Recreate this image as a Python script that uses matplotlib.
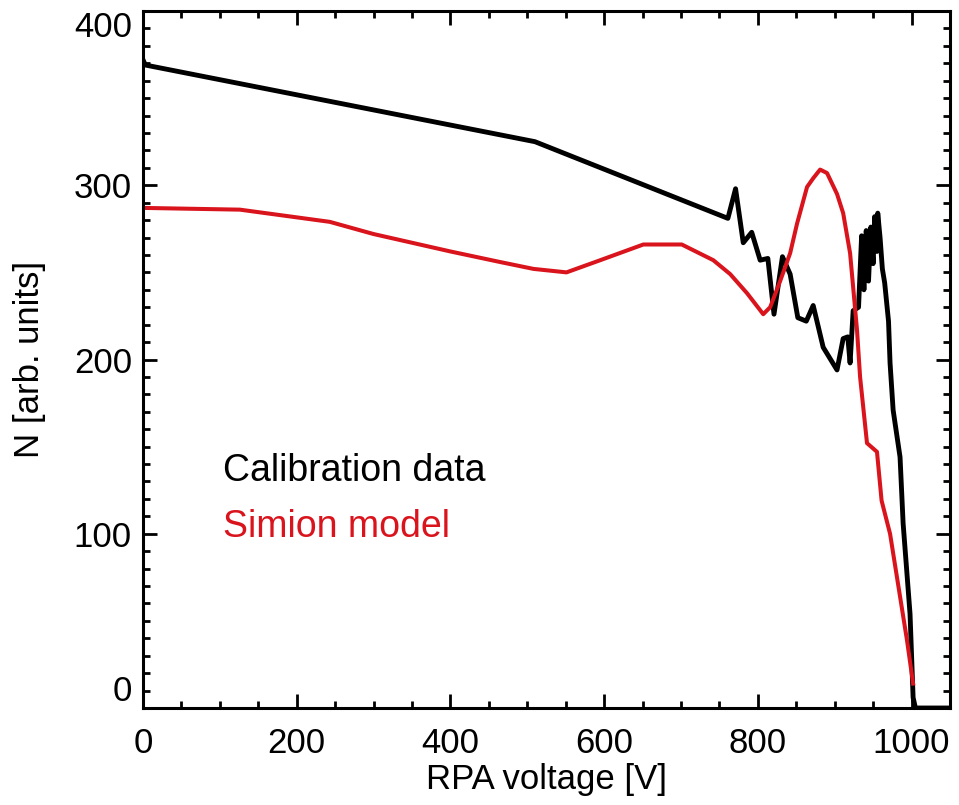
import numpy as np
import matplotlib
matplotlib.use('Agg')
import matplotlib.pyplot as plt
from matplotlib.ticker import MultipleLocator

plt.rcParams['font.family'] = ['Liberation Sans', 'DejaVu Sans']

# calibration data
calib_v = [0, 3, 510, 761, 771, 781, 792, 803, 813, 821, 832, 842, 852, 863, 872,
           885, 903, 911, 917, 920, 924, 931, 935, 938, 941, 944, 947, 950, 952,
           955, 956, 959, 962, 965, 970, 972, 976, 978, 985, 989, 998, 1002, 1005, 1050]
calib_n = [372, 369, 325, 281, 298, 267, 273, 257, 258, 226, 259, 249, 224, 222, 231,
           207, 194, 212, 213, 198, 228, 230, 271, 240, 274, 245, 276, 255, 282,
           262, 284, 270, 252, 244, 222, 198, 171, 165, 144, 106, 54, 6, 0, 0]

# Simion model
sim_v = [0, 126, 243, 300, 400, 464, 508, 551, 595, 651, 701, 742, 764, 786, 807,
         816, 829, 842, 851, 864, 872, 881, 890, 903, 911, 920, 929, 933, 942, 955,
         961, 972, 994, 1002]
sim_n = [287, 286, 279, 272, 262, 256, 252, 250, 257, 266, 266, 257, 249, 238, 226,
         230, 245, 261, 278, 299, 304, 309, 307, 295, 284, 261, 217, 190, 152, 147,
         119, 100, 39, 14]

xticks = [0, 200, 400, 600, 800, 1000]
yticks = [0, 100, 200, 300, 400]

red = '#d9141c'
fs = 25

fig = plt.figure(figsize=(9.59, 8.05), dpi=100)
ax = fig.add_axes([143/959, 1 - 708/805, (950 - 143)/959, (708 - 11)/805])

ax.plot(calib_v, calib_n, color='black', lw=3.5)
ax.plot(sim_v, sim_n, color=red, lw=2.9)

ax.set_xticks(xticks)
ax.set_yticks(yticks)
ax.xaxis.set_minor_locator(MultipleLocator(50))
ax.yaxis.set_minor_locator(MultipleLocator(10))
ax.set_xlim(0, 1050)
ax.set_ylim(0, 400)

ax.tick_params(which='both', direction='in', top=True, right=True, width=2, labelsize=fs)
ax.tick_params(which='major', length=10)
ax.tick_params(which='minor', length=5)
ax.tick_params(axis='x', pad=14)
ax.tick_params(axis='y', pad=8)
for s in ax.spines.values():
    s.set_linewidth(2.2)

# IDL style: end labels kept inside the box
ylabs = ax.get_yticklabels()
ylabs[0].set_verticalalignment('bottom')
ylabs[-1].set_verticalalignment('top')

ax.set_xlabel('RPA voltage [V]', fontsize=fs, labelpad=2)
ax.set_ylabel('N [arb. units]', fontsize=fs, labelpad=20)

ax.text(104, 130, 'Calibration data', fontsize=27, color='black', va='baseline')
ax.text(104, 98, 'Simion model', fontsize=27, color=red, va='baseline')

fig.savefig('out.png', dpi=100)
